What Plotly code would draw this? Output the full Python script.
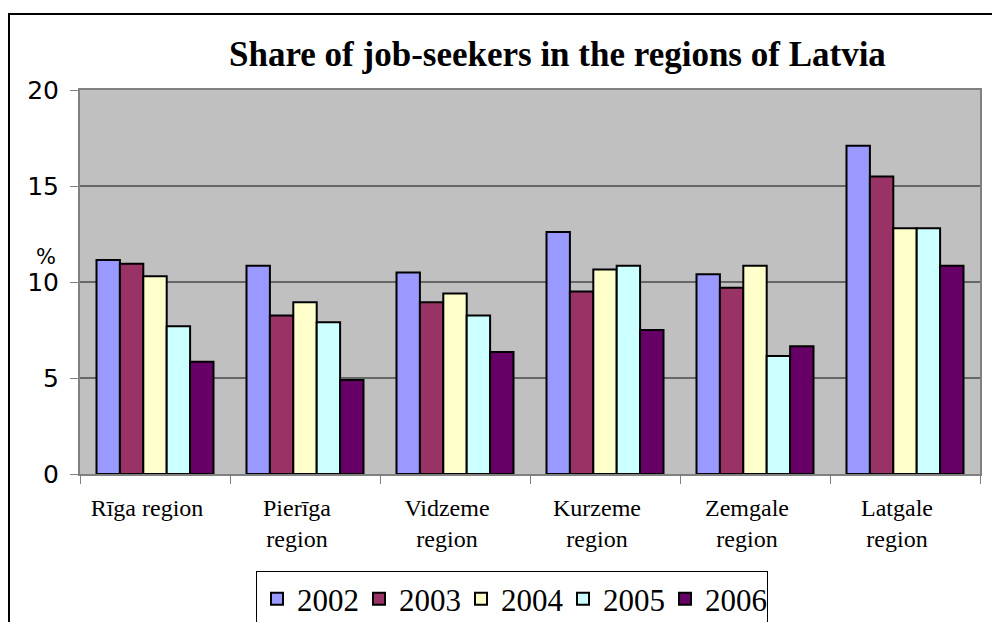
import plotly.graph_objects as go

categories = ["Rīga region", "Pierīga<br>region", "Vidzeme<br>region", "Kurzeme<br>region", "Zemgale<br>region", "Latgale<br>region"]
years = ["2002", "2003", "2004", "2005", "2006"]
v2002 = [11.15, 10.85, 10.5, 12.6, 10.4, 17.1]
v2003 = [10.95, 8.25, 8.95, 9.5, 9.7, 15.5]
v2004 = [10.3, 8.95, 9.4, 10.65, 10.85, 12.8]
v2005 = [7.7, 7.9, 8.25, 10.85, 6.15, 12.8]
v2006 = [5.85, 4.9, 6.35, 7.5, 6.65, 10.85]
series = [v2002, v2003, v2004, v2005, v2006]
colors = ["#9999FF", "#993366", "#FFFFCC", "#CCFFFF", "#660066"]
y_ticks = [0, 5, 10, 15, 20]

W, H = 992, 622
L, R, T, B = 80, 12, 90, 148
pw, ph = W - L - R, H - T - B

def px(x):
    return (x - L) / pw

def py(y):
    return (H - B - y) / ph

fig = go.Figure()
for name, vals, c in zip(years, series, colors):
    fig.add_trace(go.Bar(
        x=categories, y=vals, name=name,
        marker=dict(color=c, line=dict(color="black", width=2)),
    ))

fig.update_layout(
    width=W, height=H,
    margin=dict(l=L, r=R, t=T, b=B, autoexpand=False),
    paper_bgcolor="white",
    plot_bgcolor="#C0C0C0",
    barmode="group",
    bargap=0.22,
    bargroupgap=0,
    showlegend=True,
    legend=dict(
        orientation="h",
        x=px(512), xanchor="center",
        y=py(571), yanchor="top",
        font=dict(family="Liberation Serif", size=31, color="black"),
        bordercolor="black", borderwidth=1,
        bgcolor="white",
        traceorder="normal",
        entrywidth=57,
    ),
    xaxis=dict(
        showgrid=False,
        showline=True, linecolor="#808080", linewidth=2,
        mirror=True,
        ticks="outside", tickson="boundaries", ticklen=8, tickcolor="#808080",
        tickfont=dict(family="Liberation Serif", size=24, color="black"),
        ticklabelstandoff=11,
        ticklabelshift=-8,
    ),
    yaxis=dict(
        range=[0, 20],
        tickvals=y_ticks,
        showgrid=True, gridcolor="#666666", gridwidth=2,
        showline=True, linecolor="#808080", linewidth=2,
        mirror=True,
        ticks="outside", ticklen=8, tickcolor="#808080",
        tickfont=dict(family="DejaVu Sans", size=25, color="black"),
        ticklabelstandoff=6,
        zeroline=False,
    ),
    annotations=[
        dict(text="<b>Share of job-seekers in the regions of Latvia</b>",
             xref="paper", yref="paper", x=px(557), y=py(54),
             xanchor="center", yanchor="middle", showarrow=False,
             font=dict(family="Liberation Serif", size=35, color="black")),
        dict(text="%", xref="paper", yref="paper", x=px(46), y=py(257),
             xanchor="center", yanchor="middle", showarrow=False,
             borderpad=0,
             font=dict(family="DejaVu Sans", size=21, color="black")),
    ],
    shapes=[
        dict(type="rect", xref="paper", yref="paper",
             x0=px(9), x1=px(1000), y0=py(640), y1=py(14),
             line=dict(color="black", width=2), layer="below"),
    ],
)

fig.write_html("out.html", config={"displayModeBar": False},
               post_script="document.body.style.margin='0';")
